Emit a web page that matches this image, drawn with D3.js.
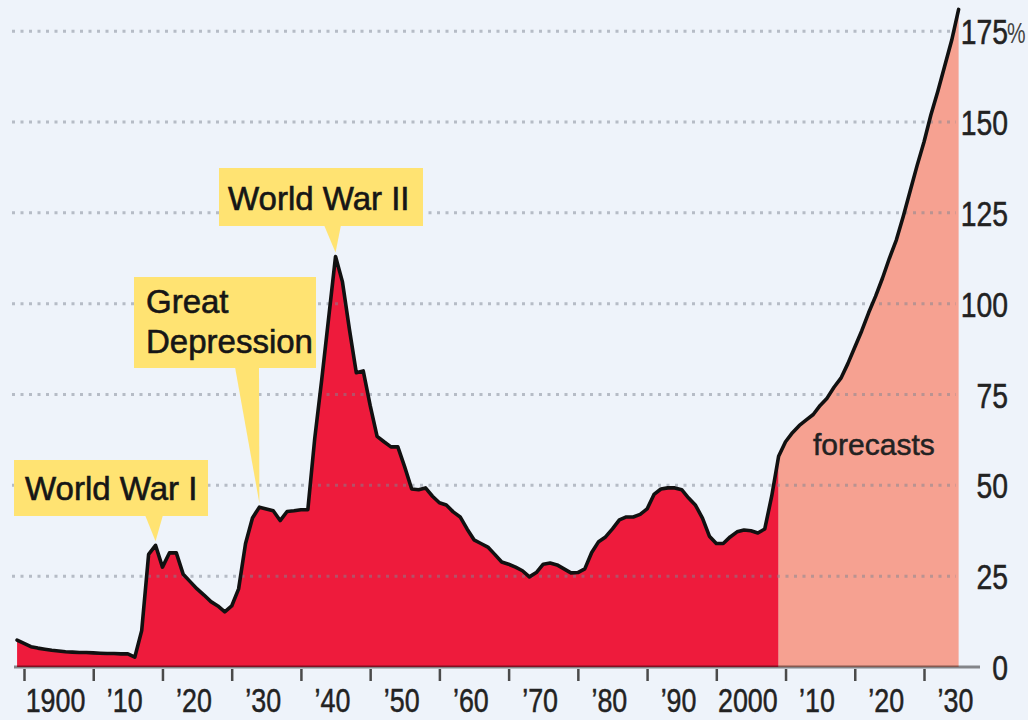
<!DOCTYPE html>
<html><head><meta charset="utf-8">
<script src="https://cdn.jsdelivr.net/npm/d3@7"></script>
<style>html,body{margin:0;padding:0;background:#eef3fa;}svg{display:block}</style>
</head><body><svg id="c" width="1028" height="720"></svg>
<script>
// Historical debt as % of GDP
const histYears = d3.range(1899, 2010);
const histPct = [
  7.4, 6.5, 5.6, 5.2, 4.9, 4.6, 4.4, 4.2, 4.1, 4.0, 4.0,      // 1899-1909
  3.9, 3.8, 3.7, 3.7, 3.6, 3.6, 2.7, 10, 31, 33.5,            // 1910-1919
  27.5, 31.4, 31.4, 25.5, 23.5, 21.5, 19.8, 18, 16.8, 15.2,   // 1920-1929
  16.8, 21.5, 34, 41, 44, 43.5, 43, 40.3, 42.8, 43,           // 1930-1939
  43.3, 43.3, 63, 79, 96, 113, 106, 93, 81, 81.5,             // 1940-1949
  72, 63.5, 62, 60.6, 60.6, 55, 49, 48.8, 49.3, 47,           // 1950-1959
  45.2, 44.6, 42.7, 41.3, 38, 35, 34, 33, 31, 28.9,           // 1960-1969
  28.3, 27.5, 26.5, 24.8, 26, 28.3, 28.6, 28.1, 27, 25.9,     // 1970-1979
  26, 27, 31.5, 34.5, 35.8, 38, 40.5, 41.3, 41.3, 42,         // 1980-1989
  43.5, 47.5, 49, 49.3, 49.3, 48.8, 46.5, 44.5, 41, 36,       // 1990-1999
  34, 34, 35.8, 37.2, 37.7, 37.5, 36.9, 38, 47, 58            // 2000-2009
];
// Forecasts
const fcYears = d3.range(2009, 2036);
const fcPct = [
  58, 62, 64.5, 66.5, 68, 69.5, 72, 74, 77, 79.5, 83.5,        // 2009-2019
  88, 92.5, 97.5, 102, 107, 112.5, 117.5, 124, 131, 138,      // 2020-2029
  144.5, 152, 158.5, 165.5, 172.5, 181                        // 2030-2035
];
const xTickYears = [1900,1910,1920,1930,1940,1950,1960,1970,1980,1990,2000,2010,2020,2030];
const xTickLabels = ["1900","\u201910","\u201920","\u201930","\u201940","\u201950","\u201960","\u201970","\u201980","\u201990","2000","\u201910","\u201920","\u201930"];
const yTicks = [0,25,50,75,100,125,150,175];
const annotations = [
  {lines:["World War I"], year:1919},
  {lines:["Great","Depression"], year:1934},
  {lines:["World War II"], year:1945}
];
const forecastLabel = "forecasts";

const svg = d3.select("#c");
const FONT = "'Liberation Sans', Arial, Helvetica, sans-serif";
const x = d3.scaleLinear().domain([1900, 2030]).range([24, 924]);
const y = d3.scaleLinear().domain([0, 175]).range([667, 31.2]);

svg.append("rect").attr("width",1028).attr("height",720).attr("fill","#eef3fa");

const hist = histYears.map((yr,i)=>({yr, v:histPct[i]}));
const fc = fcYears.map((yr,i)=>({yr, v:fcPct[i]}));

const area = d3.area().x(d=>x(d.yr)).y0(y(0)).y1(d=>y(d.v));
svg.append("path").datum(hist).attr("d", area).attr("fill","#ee1b3c");
svg.append("path").datum(fc).attr("d", area).attr("fill","#f6a191");

// gridlines
svg.append("g").selectAll("line").data(yTicks.filter(d=>d>0)).join("line")
  .attr("x1",12).attr("x2",956)
  .attr("y1",d=>y(d)).attr("y2",d=>y(d))
  .attr("stroke","#7d8591").attr("stroke-opacity",0.5)
  .attr("stroke-width",3).attr("stroke-dasharray","3,5.5");

// baseline
svg.append("line").attr("x1",14).attr("x2",980).attr("y1",y(0)).attr("y2",y(0))
  .attr("stroke","#000").attr("stroke-opacity",0.45).attr("stroke-width",3);

// data line
const line = d3.line().x(d=>x(d.yr)).y(d=>y(d.v));
svg.append("path").datum(hist.concat(fc.slice(1))).attr("d", line)
  .attr("fill","none").attr("stroke","#111").attr("stroke-width",3.6)
  .attr("stroke-linejoin","round").attr("stroke-linecap","round");

// x axis
const xAxis = svg.append("g").attr("transform",`translate(0,${y(0)+2})`)
  .call(d3.axisBottom(x).tickValues(xTickYears).tickSize(12)
    .tickFormat((d,i)=>xTickLabels[i]));
xAxis.select(".domain").remove();
xAxis.selectAll(".tick line").attr("stroke","#4a4a4a").attr("stroke-width",2.5);
xAxis.selectAll(".tick text")
  .attr("y",null).attr("dy",null)
  .attr("transform","translate(31,43) scale(0.79,1)")
  .attr("font-family",FONT).attr("font-size",34).attr("fill","#222")
  .attr("stroke","#222").attr("stroke-width",0.5);

// y axis (right)
const yAxis = svg.append("g").attr("transform","translate(1008,0)")
  .call(d3.axisRight(y).tickValues(yTicks).tickSize(0).tickFormat(d=>d));
yAxis.select(".domain").remove();
yAxis.selectAll(".tick text")
  .attr("x",null).attr("dy",null).attr("text-anchor","end")
  .attr("transform","translate(0,12.5) scale(0.81,1)")
  .attr("font-family",FONT).attr("font-size",35).attr("fill","#222")
  .attr("stroke","#222").attr("stroke-width",0.5);
yAxis.selectAll(".tick").filter(d=>d===175).append("text")
  .attr("text-anchor","start")
  .attr("transform","translate(-1,11) scale(0.72,1)")
  .attr("font-family",FONT).attr("font-size",29).attr("fill","#444").text("%");

// annotations
const boxes = [
  {x:14, y:460, w:194, h:56, b0:145, b1:163, tx:25, ty:[500]},
  {x:134, y:277, w:182, h:91, b0:235, b1:259, tx:146, ty:[313,353]},
  {x:219, y:168, w:204, h:58, b0:324, b1:341, tx:228, ty:[210]}
];
const lookup = new Map(hist.map(d=>[d.yr,d.v]));
annotations.forEach((a,i)=>{
  const b = boxes[i];
  const g = svg.append("g");
  const tipX = x(a.year), tipY = y(lookup.get(a.year)) - 4;
  g.append("path").attr("d",`M${b.b0},${b.y+b.h-1}L${b.b1},${b.y+b.h-1}L${tipX},${tipY}Z`).attr("fill","#ffe372");
  g.append("rect").attr("x",b.x).attr("y",b.y).attr("width",b.w).attr("height",b.h).attr("fill","#ffe372");
  a.lines.forEach((t,j)=>{
    g.append("text").attr("x",b.tx).attr("y",b.ty[j])
      .attr("font-family",FONT).attr("font-size",33).attr("fill","#161616")
      .attr("stroke","#161616").attr("stroke-width",0.6).text(t);
  });
});

svg.append("text").attr("x",813).attr("y",455)
  .attr("font-family",FONT).attr("font-size",30).attr("fill","#222")
  .attr("stroke","#222").attr("stroke-width",0.5).text(forecastLabel);
</script>
</body></html>
